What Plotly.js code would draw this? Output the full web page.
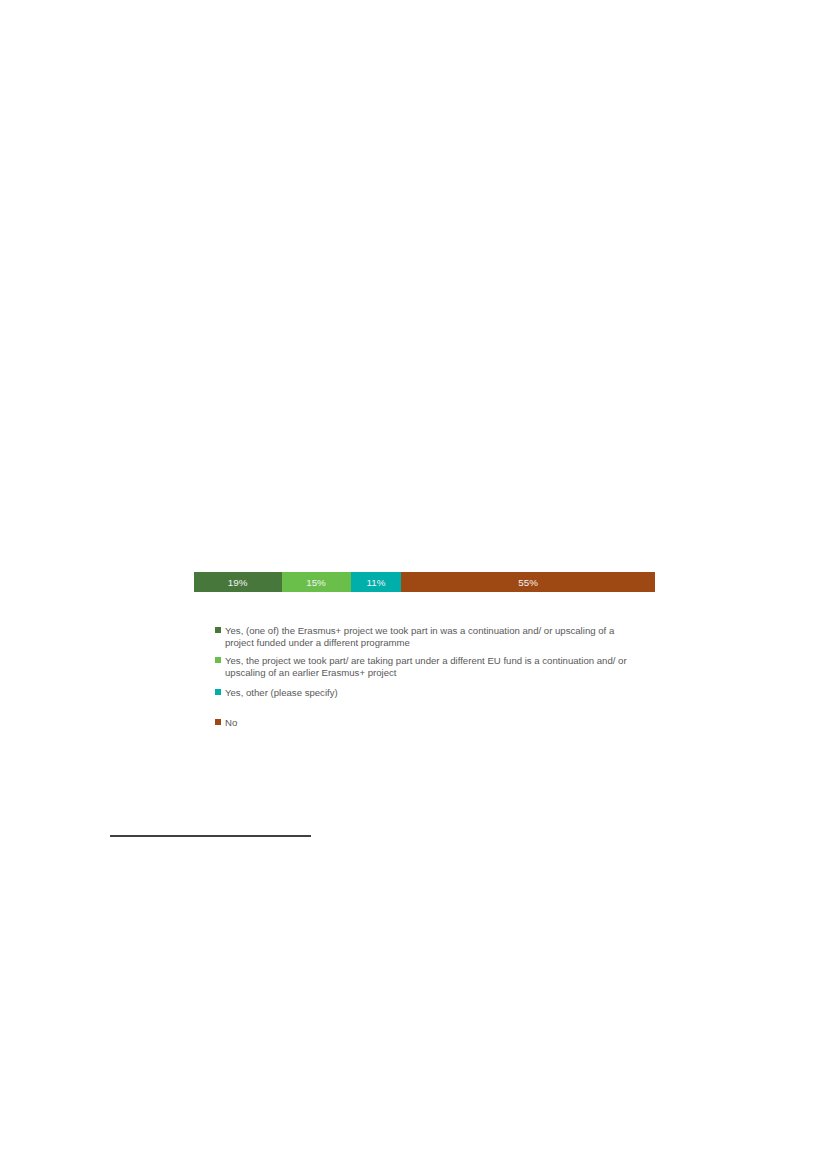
<!DOCTYPE html>
<html><head><meta charset="utf-8">
<script src="https://cdn.plot.ly/plotly-3.0.1.min.js"></script>
<style>html,body{margin:0;padding:0;background:#fff}</style>
</head><body>
<div id="chart" style="width:827px;height:1169px"></div>
<script>
const categories = [
  "Yes, (one of) the Erasmus+ project we took part in was a continuation and/ or upscaling of a<br>project funded under a different programme",
  "Yes, the project we took part/ are taking part under a different EU fund is a continuation and/ or<br>upscaling of an earlier Erasmus+ project",
  "Yes, other (please specify)",
  "No"
];
const values = [19, 15, 11, 55];
const colors = ["#48773c", "#6abf4b", "#00aeaa", "#9e4913"];
const legendCenters = [630, 660, 692, 722];

const W = 827, H = 1169;
const px = x => x / W;
const py = y => 1 - y / H;

const traces = categories.map((c, i) => ({
  type: "bar",
  orientation: "h",
  name: c,
  x: [values[i]],
  y: ["q"],
  marker: {color: colors[i], line: {width: 0}},
  text: [values[i] + "%"],
  textposition: "inside",
  insidetextanchor: "middle",
  textfont: {color: "#f4f4f4", size: 9.8, family: "Liberation Sans, Arial, sans-serif", weight: "normal"},
  hoverinfo: "skip",
  showlegend: false
}));

const shapes = [];
const annotations = [];
categories.forEach((c, i) => {
  const yc = legendCenters[i];
  shapes.push({type: "rect", xref: "paper", yref: "paper",
    x0: px(215), x1: px(221), y0: py(yc + 3), y1: py(yc - 3),
    fillcolor: colors[i], line: {width: 0}});
  annotations.push({xref: "paper", yref: "paper", x: px(223), y: py(yc - 7),
    xanchor: "left", yanchor: "top", align: "left", showarrow: false,
    text: c, font: {size: 9.6, color: "#595959", family: "Liberation Sans, Arial, sans-serif"}});
});
shapes.push({type: "line", xref: "paper", yref: "paper",
  x0: px(110), x1: px(311), y0: py(836), y1: py(836), line: {color: "#000000", width: 1.5}});

const layout = {
  width: W, height: H,
  margin: {l: 0, r: 0, t: 0, b: 0},
  paper_bgcolor: "#fff", plot_bgcolor: "#fff",
  barmode: "stack", bargap: 0,
  xaxis: {domain: [px(194), px(655)], range: [0, 100], visible: false, fixedrange: true},
  yaxis: {domain: [py(592), py(572)], visible: false, fixedrange: true},
  showlegend: false,
  shapes: shapes,
  annotations: annotations,
  font: {family: "Liberation Sans, Arial, sans-serif"}
};

Plotly.newPlot("chart", traces, layout, {displayModeBar: false, staticPlot: true});
</script>
</body></html>
